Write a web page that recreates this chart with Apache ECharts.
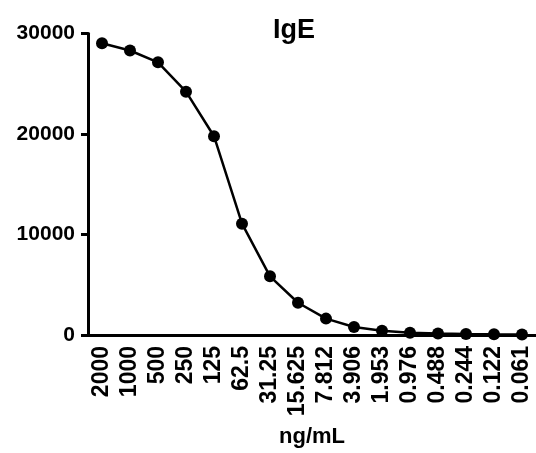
<!DOCTYPE html>
<html>
<head>
<meta charset="utf-8">
<script src="https://cdn.jsdelivr.net/npm/echarts@6/dist/echarts.min.js"></script>
<style>
  html, body { margin: 0; padding: 0; background: #fff; }
  #chart { width: 536px; height: 453px; }
</style>
</head>
<body>
<div id="chart"></div>
<script>
// Serial dilution concentrations (ng/mL) and measured IgE signal
const concentrations = ['2000', '1000', '500', '250', '125', '62.5', '31.25', '15.625',
  '7.812', '3.906', '1.953', '0.976', '0.488', '0.244', '0.122', '0.061'];
const signal = [29030, 28310, 27130, 24210, 19780, 11080, 5840, 3210,
  1630, 790, 420, 230, 150, 100, 70, 50];
const yTicks = [0, 10000, 20000, 30000];

const font = 'Liberation Sans, Arial, sans-serif';
const chart = echarts.init(document.getElementById('chart'), null, { renderer: 'canvas' });

chart.setOption({
  animation: false,
  backgroundColor: '#ffffff',
  title: {
    text: 'IgE',
    left: 268,
    top: 12,
    textStyle: { fontFamily: font, fontWeight: 'bold', fontSize: 27, color: '#000' }
  },
  grid: { left: 88, top: 33.5, right: -8.5, bottom: 114.7, containLabel: false },
  xAxis: {
    type: 'category',
    data: concentrations,
    boundaryGap: true,
    name: 'ng/mL',
    nameLocation: 'middle',
    nameGap: 91,
    nameTextStyle: { fontFamily: font, fontWeight: 'bold', fontSize: 22, color: '#000' },
    axisLine: { lineStyle: { color: '#000', width: 3 } },
    axisTick: { alignWithLabel: true, length: 7, lineStyle: { color: '#000', width: 3 } },
    axisLabel: {
      rotate: 90, interval: 0, margin: 11,
      fontFamily: font, fontWeight: 'bold', fontSize: 23, color: '#000'
    },
    splitLine: { show: false }
  },
  yAxis: {
    type: 'value',
    min: yTicks[0],
    max: yTicks[yTicks.length - 1],
    interval: yTicks[1] - yTicks[0],
    axisLine: { show: true, lineStyle: { color: '#000', width: 3 } },
    axisTick: { show: true, length: 7, lineStyle: { color: '#000', width: 3 } },
    axisLabel: {
      margin: 13, fontFamily: font, fontWeight: 'bold', fontSize: 21, color: '#000',
      formatter: v => String(v)
    },
    splitLine: { show: false }
  },
  series: [{
    type: 'line',
    data: signal,
    smooth: false,
    symbol: 'circle',
    symbolSize: 12,
    clip: false,
    itemStyle: { color: '#000' },
    lineStyle: { color: '#000', width: 2.5 }
  }]
});
</script>
</body>
</html>
